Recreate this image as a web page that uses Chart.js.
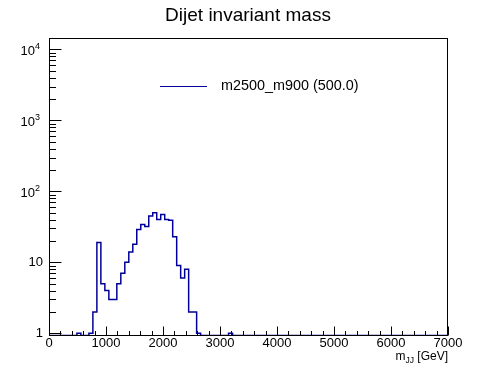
<!DOCTYPE html>
<html><head><meta charset="utf-8">
<script src="https://cdn.jsdelivr.net/npm/chart.js@4/dist/chart.umd.min.js"></script>
<style>html,body{margin:0;padding:0;background:#fff;}canvas{display:block;}</style>
</head><body>
<canvas id="c" width="498" height="374"></canvas>
<script>
// ---- data ----
const titleText = 'Dijet invariant mass';
const seriesLabel = 'm2500_m900 (500.0)';
const xMin = 0, xMax = 7000, nBins = 100;           // histogram binning (GeV)
const counts = [
  0,0,0,0,0,0,0,1,0,0,
  1,2,19,5,4,3,3,5,7,10,
  14,18,29,34,32,45,50,40,47,40,
  39,23,9,6,8,2,2,1,0,0,
  0,0,0,0,0,1,0,0,0,0,
  0,0,0,0,0,0,0,0,0,0,
  0,0,0,0,0,0,0,0,0,0,
  0,0,0,0,0,0,0,0,0,0,
  0,0,0,0,0,0,0,0,0,0,
  0,0,0,0,0,0,0,0,0,0
];
const xTickValues = [0,1000,2000,3000,4000,5000,6000,7000];
const yDecades = [1,10,100,1000,10000];
const yMin = 0.93, yMax = 14500;

// ---- build ----
const FONT = 'Liberation Sans, Arial, Helvetica, sans-serif';
const LINE_COLOR = '#000099';
const binW = (xMax - xMin) / nBins;
const pts = counts.map((v, i) => ({x: xMin + i * binW, y: v > 0 ? v : yMin}));
pts.push({x: xMax, y: counts[counts.length - 1] > 0 ? counts[counts.length - 1] : yMin});

const rootDecor = {
  id: 'rootDecor',
  afterDatasetsDraw(chart) {
    const ctx = chart.ctx, a = chart.chartArea;
    const xs = chart.scales.x, ys = chart.scales.y;
    ctx.save();
    // title
    ctx.fillStyle = '#000';
    ctx.font = '19px ' + FONT;
    ctx.textAlign = 'center';
    ctx.textBaseline = 'alphabetic';
    ctx.fillText(titleText, 248, 21);
    // frame
    ctx.strokeStyle = '#000';
    ctx.lineWidth = 1;
    const L = Math.round(a.left) + 0.5, R = Math.round(a.right) - 0.5;
    const T = Math.round(a.top) + 0.5, B = Math.round(a.bottom) - 0.5;
    ctx.strokeRect(L, T, R - L, B - T);
    // x ticks (inside)
    ctx.beginPath();
    for (let v = xMin; v <= xMax + 1e-6; v += 200) {
      const px = Math.round(xs.getPixelForValue(v)) + 0.5;
      const len = (v % 1000 === 0) ? 9 : 4.5;
      ctx.moveTo(px, B); ctx.lineTo(px, B - len);
    }
    // y ticks (inside)
    for (const d of yDecades) {
      for (let m = 1; m <= 9; m++) {
        const v = d * m;
        if (v < yMin || v > yMax) continue;
        const py = Math.round(ys.getPixelForValue(v)) + 0.5;
        const len = m === 1 ? 12 : 6.5;
        ctx.moveTo(L, py); ctx.lineTo(L + len, py);
      }
    }
    ctx.stroke();
    // y labels
    ctx.textBaseline = 'middle';
    yDecades.forEach((d) => {
      const k = Math.round(Math.log10(d));
      const py = ys.getPixelForValue(d);
      if (k <= 1) {
        ctx.font = '13px ' + FONT;
        ctx.textAlign = 'right';
        ctx.fillText(String(d), 43, py + 0.5);
      } else {
        ctx.font = '9px ' + FONT;
        const sw = ctx.measureText(String(k)).width;
        ctx.font = '13px ' + FONT;
        const tw = ctx.measureText('10').width;
        const xr = 40;
        ctx.textAlign = 'left';
        ctx.fillText('10', xr - sw - tw, py + 2);
        ctx.font = '9px ' + FONT;
        ctx.fillText(String(k), xr - sw, py - 3);
      }
    });
    // x axis title  m_{JJ} [GeV]
    const xr = a.right;
    const yb = 360;
    ctx.textBaseline = 'alphabetic';
    ctx.textAlign = 'left';
    ctx.font = '12px ' + FONT;
    const w3 = ctx.measureText(' [GeV]').width;
    const w1 = ctx.measureText('m').width;
    ctx.font = '8.5px ' + FONT;
    const w2 = ctx.measureText('JJ').width;
    const x0 = xr - w3 - w2 - w1;
    ctx.font = '12px ' + FONT;
    ctx.fillText('m', x0, yb);
    ctx.font = '8.5px ' + FONT;
    ctx.fillText('JJ', x0 + w1, yb + 2.5);
    ctx.font = '12px ' + FONT;
    ctx.fillText(' [GeV]', x0 + w1 + w2, yb);
    // legend
    ctx.strokeStyle = LINE_COLOR;
    ctx.lineWidth = 1;
    ctx.beginPath();
    ctx.moveTo(160, 86.5); ctx.lineTo(207, 86.5);
    ctx.stroke();
    ctx.font = '14.4px ' + FONT;
    ctx.textBaseline = 'middle';
    ctx.fillText(seriesLabel, 221, 86);
    ctx.restore();
  }
};

new Chart(document.getElementById('c'), {
  type: 'line',
  data: {
    datasets: [{
      label: seriesLabel,
      data: pts,
      borderColor: LINE_COLOR,
      borderWidth: 1.5,
      pointRadius: 0,
      stepped: 'before',
      fill: false,
      clip: 0
    }]
  },
  options: {
    responsive: false,
    animation: false,
    devicePixelRatio: 1,
    layout: {padding: {left: 0, right: 50, top: 38, bottom: 0}},
    plugins: {
      legend: {display: false},
      tooltip: {enabled: false},
      title: {display: false}
    },
    scales: {
      x: {
        type: 'linear', min: xMin, max: xMax,
        afterBuildTicks: (s) => { s.ticks = xTickValues.map(v => ({value: v})); },
        ticks: {color: '#000', font: {family: FONT, size: 13}, padding: 0, maxRotation: 0, autoSkip: false,
                callback: (v) => String(v)},
        grid: {display: false, drawTicks: false},
        border: {display: false},
        afterFit: (s) => { s.height = 38.5; }
      },
      y: {
        type: 'logarithmic', min: yMin, max: yMax,
        ticks: {display: false},
        grid: {display: false, drawTicks: false},
        border: {display: false},
        afterFit: (s) => { s.width = 49; }
      }
    }
  },
  plugins: [rootDecor]
});
</script>
</body></html>
